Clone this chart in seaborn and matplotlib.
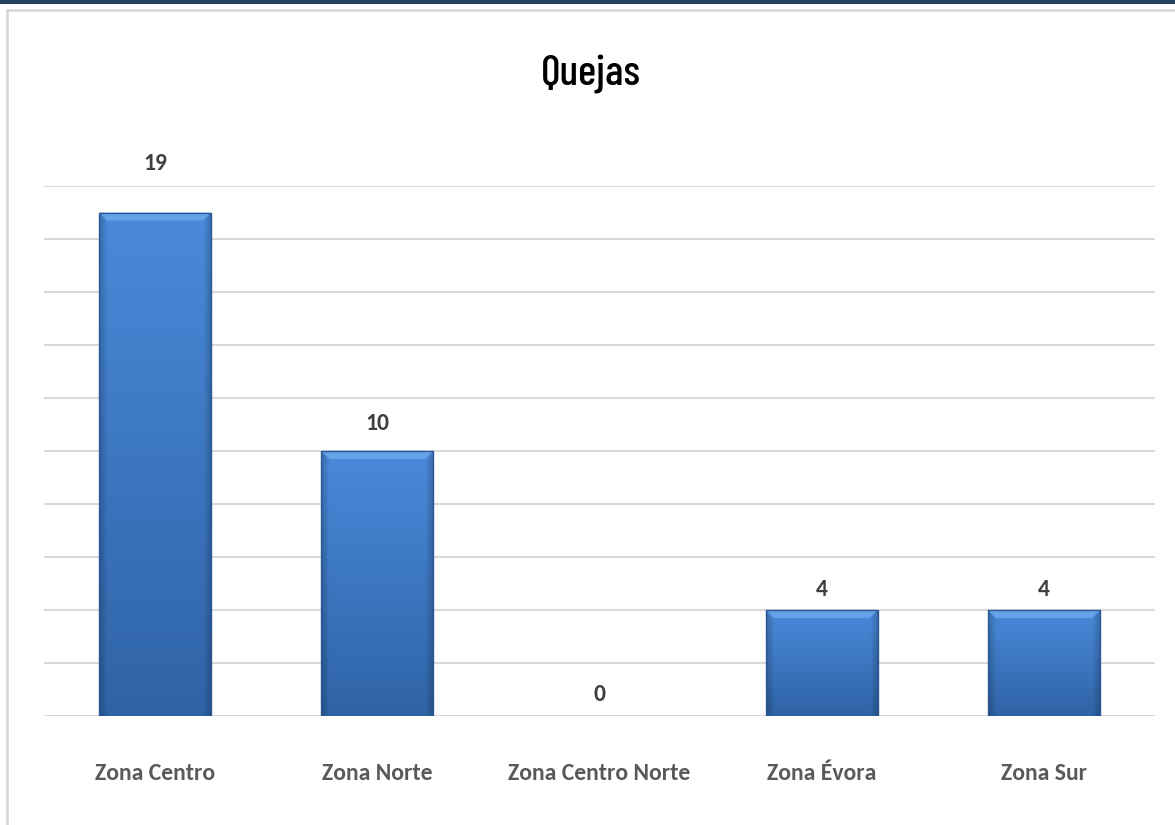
import numpy as np
import pandas as pd
import matplotlib
matplotlib.use("Agg")
import matplotlib.pyplot as plt
import seaborn as sns
from matplotlib.patches import Rectangle, Polygon
from matplotlib.colors import to_rgb

# Datos del grafico
zonas = ["Zona Centro", "Zona Norte", "Zona Centro Norte", "Zona Évora", "Zona Sur"]
quejas = [19, 10, 0, 4, 4]
titulo = "Quejas"

# desplazamiento de las etiquetas (puntos), como en el original
label_offsets = [35, 19.5, 15.8, 14.4, 14.4]

sns.set_theme(style="white")
plt.rcParams['font.family'] = ['Carlito', 'DejaVu Sans']

df = pd.DataFrame({"zona": zonas, "quejas": quejas})

fig = plt.figure(figsize=(11.75, 8.25), dpi=100)
ax = fig.add_axes([44 / 1175, 1 - 716 / 825, (1155 - 44) / 1175, (716 - 186) / 825])

sns.barplot(x="zona", y="quejas", data=df, order=zonas, color="#3d7bc8",
            width=0.505, ax=ax, saturation=1, linewidth=0, zorder=3)

ax.set_ylim(0, 20)
ax.set_yticks(np.arange(0, 21, 2))
ax.yaxis.grid(True, color="#d9d9d9", linewidth=1.5, zorder=0)
ax.set_axisbelow(True)
ax.tick_params(axis="y", left=False, labelleft=False)
ax.tick_params(axis="x", bottom=False, pad=28)
for s in ax.spines.values():
    s.set_visible(False)
ax.set_xlabel("")
ax.set_ylabel("")
for lbl in ax.get_xticklabels():
    lbl.set_fontsize(17)
    lbl.set_fontweight("bold")
    lbl.set_color("#595959")

# relleno degradado con bisel para cada barra
top_c = np.array(to_rgb("#4a8ada"))
bot_c = np.array(to_rgb("#2f63a6"))
ny, nx = 200, 60
yy = np.linspace(0, 1, ny)[:, None]
xx = np.linspace(0, 1, nx)[None, :]
img = top_c * (1 - yy[..., None]) + bot_c * yy[..., None]
img = np.broadcast_to(img, (ny, nx, 3)).copy()
edge = np.clip(1 - np.minimum(xx, 1 - xx) / 0.07, 0, 1)
img = img * (1 - 0.2 * edge[..., None])

for bar in ax.patches:
    h = bar.get_height()
    if h <= 0:
        continue
    x0 = bar.get_x()
    w = bar.get_width()
    im = ax.imshow(img, extent=[x0, x0 + w, 0, h], aspect="auto", zorder=3.5)
    im.set_clip_path(bar)
    # bisel superior claro
    bh = 0.3
    bw = w * 0.07
    ax.add_patch(Polygon([(x0, h), (x0 + w, h), (x0 + w - bw, h - bh), (x0 + bw, h - bh)],
                         closed=True, facecolor="#6aa8ec", edgecolor="none", alpha=0.85, zorder=3.6))
    ax.add_patch(Rectangle((x0, 0), w, h, facecolor="none",
                           edgecolor="#2a5896", linewidth=1.0, zorder=3.7))

ax.set_xlim(-0.5, len(zonas) - 0.5)

for i, v in enumerate(quejas):
    ax.annotate(str(v), (i, v), xytext=(0, label_offsets[i]), textcoords="offset points",
                ha="center", va="center", fontsize=17, fontweight="bold", color="#404040")

fig.text(591 / 1175, 1 - 75 / 825, titulo, ha="center", va="center", fontsize=31,
         color="black", family=["Barlow Condensed", "DejaVu Sans"], fontweight=500,
         fontstretch="condensed")

# marco y franja superior
fig.patches.append(Rectangle((0, 1 - 4 / 825), 1, 4 / 825, transform=fig.transFigure,
                             facecolor="#243f60", edgecolor="none", zorder=5))
fig.lines.append(plt.Line2D([7 / 1175, 1], [1 - 10 / 825, 1 - 10 / 825], transform=fig.transFigure,
                            color="#d9d9d9", linewidth=2))
fig.lines.append(plt.Line2D([7 / 1175, 7 / 1175], [0, 1 - 10 / 825], transform=fig.transFigure,
                            color="#d9d9d9", linewidth=2))

fig.savefig("out.png", dpi=100)
